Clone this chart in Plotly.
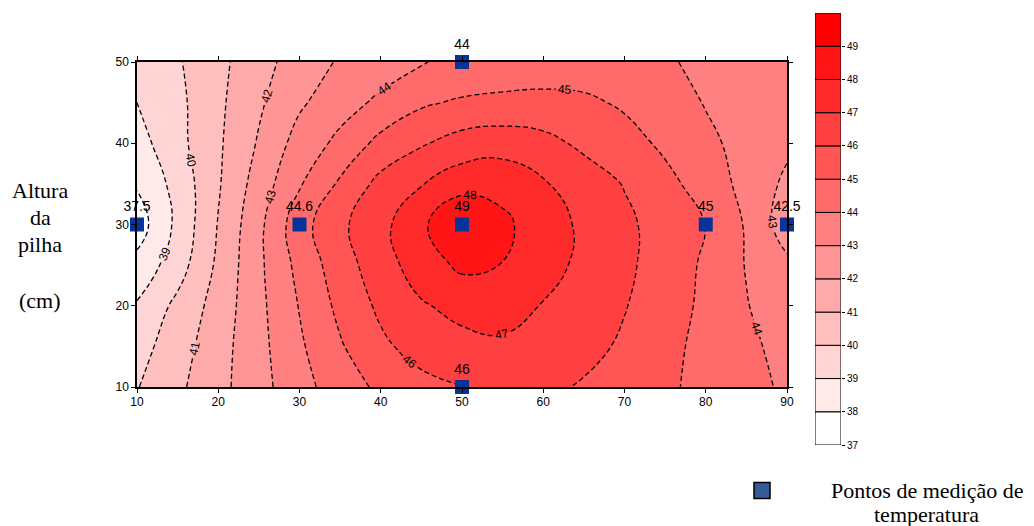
import plotly.graph_objects as go

# ---- data ----
x_grid = [10, 15, 20, 25, 30, 35, 40, 45, 50, 55, 60, 65, 70, 75, 80, 85, 90]
y_grid = [10, 15, 20, 25, 30, 35, 40, 45, 50]

z_y10 = [39.95, 40.8, 41.7, 42.65, 43.65, 44.5, 45.2, 45.7, 45.98, 46.15, 46.2, 45.9, 45.55, 45.15, 44.75, 44.3, 43.85]
z_y15 = [39.6, 40.55, 41.6, 42.7, 43.85, 44.9, 45.8, 46.4, 46.7, 46.85, 46.7, 46.3, 45.85, 45.3, 44.7, 44.2, 43.7]
z_y20 = [39.1, 40.25, 41.4, 42.75, 44.05, 45.25, 46.2, 46.9, 47.3, 47.35, 46.95, 46.5, 46.05, 45.45, 44.8, 44.05, 43.4]
z_y25 = [38.3, 39.55, 41.2, 42.8, 44.3, 45.55, 46.55, 47.5, 48.2, 47.98, 47.4, 46.75, 46.2, 45.55, 44.85, 43.95, 43.2]
z_y30 = [37.5, 39.25, 41.05, 42.75, 44.6, 45.8, 46.7, 47.8, 49.0, 48.2, 47.5, 46.8, 46.2, 45.6, 44.98, 43.9, 42.5]
z_y35 = [38.1, 39.35, 40.9, 42.45, 43.9, 45.15, 46.3, 46.95, 47.6, 47.7, 47.1, 46.5, 45.95, 45.3, 44.55, 43.7, 42.8]
z_y40 = [38.6, 39.7, 40.85, 42.1, 43.4, 44.25, 45.3, 45.9, 46.4, 46.55, 46.3, 45.8, 45.4, 44.8, 44.2, 43.7, 43.2]
z_y45 = [39.0, 39.75, 40.8, 41.85, 42.85, 43.6, 44.2, 44.85, 45.15, 45.25, 45.3, 45.2, 44.85, 44.45, 43.95, 43.65, 43.45]
z_y50 = [39.3, 39.9, 40.75, 41.6, 42.5, 43.1, 43.5, 43.99, 44.05, 44.3, 44.4, 44.4, 44.3, 44.1, 43.8, 43.6, 43.4]

meas_x = [10, 30, 50, 80, 90, 50, 50]
meas_y = [30, 30, 30, 30, 30, 50, 10]
meas_labels = ["37.5", "44.6", "49", "45", "42.5", "44", "46"]

levels = list(range(37, 51))          # contour levels 37 .. 50
bar_levels = levels[:-1]              # band bottoms 37 .. 49

# ---- styling ----
n_bands = len(bar_levels)
band_colors = []
for i in range(n_bands):
    t = i / (n_bands - 1)
    g = round(255 * (1 - t))
    band_colors.append(f"rgb(255,{g},{g})")

span = levels[-1] - levels[0] + 1
colorscale = [[0, band_colors[0]]]
for i, L in enumerate(bar_levels):
    colorscale.append([(L - (levels[0] - 1)) / span, band_colors[i]])
colorscale.append([1, band_colors[-1]])

z = [z_y10, z_y15, z_y20, z_y25, z_y30, z_y35, z_y40, z_y45, z_y50]

fig = go.Figure()

fig.add_trace(go.Contour(
    x=x_grid, y=y_grid, z=z,
    autocontour=False,
    contours=dict(start=levels[0], end=levels[-1], size=1, coloring="fill",
                  showlabels=True,
                  labelfont=dict(family="Liberation Sans, Arial", size=12, color="black")),
    colorscale=colorscale,
    showscale=False,
    line=dict(color="black", width=1.3, dash="5px,3px", smoothing=1.3),
    hoverinfo="skip",
))

fig.add_trace(go.Scatter(
    x=meas_x, y=meas_y, mode="markers+text",
    text=meas_labels, textposition="top center",
    textfont=dict(family="Liberation Sans, Arial", size=14, color="black"),
    marker=dict(symbol="square", size=14, color="#0a3399"),
    cliponaxis=False, showlegend=False, hoverinfo="skip",
))

# legend symbol
fig.add_trace(go.Scatter(
    x=[None], y=[None], mode="markers", name="",
    marker=dict(symbol="square", size=16, color="#335c98",
                line=dict(color="black", width=1.5)),
    showlegend=True,
))

# colour bar drawn as stacked bars
fig.add_trace(go.Bar(
    x=[0] * n_bands, y=[1] * n_bands, base=bar_levels, width=1,
    marker=dict(color=band_colors, line=dict(color="black", width=1)),
    xaxis="x2", yaxis="y2", showlegend=False, hoverinfo="skip",
))

tickfont = dict(family="Liberation Sans, Arial", size=12, color="black")

L_M, R_M, T_M, B_M = 137, 174, 13, 81
W, H = 1034, 526
pw, ph = W - L_M - R_M, H - T_M - B_M

def px_x(px):
    return (px - L_M) / pw

def px_y(py):
    return (H - B_M - py) / ph

fig.update_layout(
    width=W, height=H,
    margin=dict(l=L_M, r=R_M, t=T_M, b=B_M, autoexpand=False),
    paper_bgcolor="white", plot_bgcolor="white",
    barmode="overlay",
    xaxis=dict(domain=[0, px_x(787)], range=[10, 90], tickvals=list(range(10, 91, 10)),
               ticks="outside", ticklen=4, tickwidth=1, tickcolor="black",
               ticklabelstandoff=-1,
               showline=True, linecolor="black", linewidth=1.5, mirror="ticks",
               showgrid=False, zeroline=False, tickfont=tickfont, anchor="y"),
    yaxis=dict(domain=[px_y(387), px_y(62)], range=[10, 50], tickvals=list(range(10, 51, 10)),
               ticks="outside", ticklen=4, tickwidth=1, tickcolor="black",
               showline=True, linecolor="black", linewidth=1.5, mirror="ticks",
               showgrid=False, zeroline=False, tickfont=tickfont, anchor="x"),
    xaxis2=dict(domain=[px_x(815), px_x(841)], range=[-0.5, 0.5], showticklabels=False,
                showgrid=False, zeroline=False, ticks="", anchor="y2", fixedrange=True),
    yaxis2=dict(domain=[0, 1], range=[levels[0], levels[-1]], tickvals=bar_levels,
                side="right", anchor="x2", ticks="outside", ticklen=3, tickcolor="black",
                showgrid=False, zeroline=False, showline=False,
                tickfont=dict(family="Liberation Sans, Arial", size=10, color="black")),
    legend=dict(x=px_x(742), y=px_y(476), xanchor="left", yanchor="top",
                bgcolor="rgba(0,0,0,0)", font=dict(size=10)),
    showlegend=True,
)

serif = dict(family="Liberation Serif, Times New Roman", size=22, color="black")
for txt, py in [("Altura", 190), ("da", 217), ("pilha", 244), ("(cm)", 300)]:
    fig.add_annotation(x=px_x(40), y=px_y(py), xref="paper", yref="paper",
                       text=txt, showarrow=False, font=serif,
                       xanchor="center", yanchor="middle")
for txt, py in [("Pontos de medição de", 491), ("temperatura", 514)]:
    fig.add_annotation(x=px_x(927), y=px_y(py), xref="paper", yref="paper",
                       text=txt, showarrow=False, font=serif,
                       xanchor="center", yanchor="middle")

fig.write_html("out.html")
